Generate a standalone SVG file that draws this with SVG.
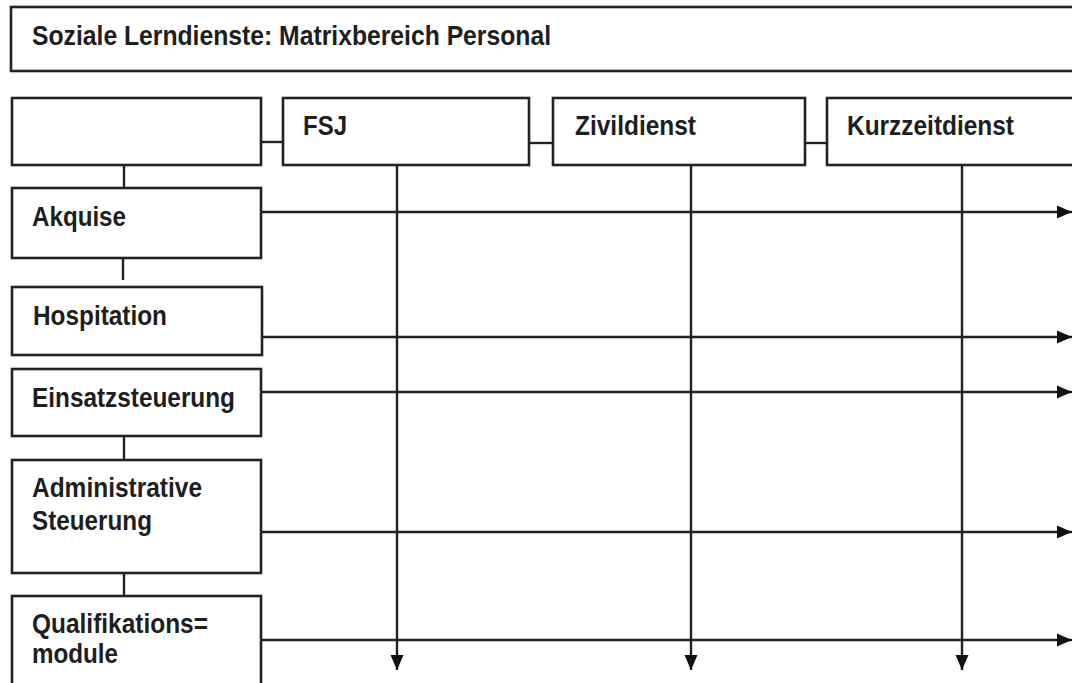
<svg xmlns="http://www.w3.org/2000/svg" width="1072" height="683" viewBox="0 0 1072 683">
<style>
.box{fill:#fff;stroke:#222;stroke-width:2.6}
.ln{fill:none;stroke:#222;stroke-width:2.4}
.t{font-family:"Liberation Sans",Arial,sans-serif;font-weight:bold;font-size:28px;fill:#1e1e1e}
</style>
<defs>
<marker id="ah" markerUnits="userSpaceOnUse" markerWidth="15" markerHeight="15" refX="15" refY="7.5" orient="auto" viewBox="0 0 15 15">
<path d="M0,1 L15,7.5 L0,14 Z" fill="#111"/>
</marker>
</defs>
<rect width="1072" height="683" fill="#fff"/>
<g id="connectors">
<line class="ln" x1="261" y1="142" x2="283" y2="142"/>
<line class="ln" x1="529" y1="143" x2="553" y2="143"/>
<line class="ln" x1="805" y1="143" x2="827" y2="143"/>
<line class="ln" x1="124" y1="165" x2="124" y2="188"/>
<line class="ln" x1="123" y1="258" x2="123" y2="280"/>
<line class="ln" x1="124" y1="436" x2="124" y2="460"/>
<line class="ln" x1="124" y1="573" x2="124" y2="596"/>
<line class="ln" x1="397" y1="165" x2="397" y2="670" marker-end="url(#ah)"/>
<line class="ln" x1="691" y1="165" x2="691" y2="670" marker-end="url(#ah)"/>
<line class="ln" x1="962" y1="165" x2="962" y2="670" marker-end="url(#ah)"/>
<line class="ln" x1="261" y1="212" x2="1072" y2="212" marker-end="url(#ah)"/>
<line class="ln" x1="261" y1="337" x2="1072" y2="337" marker-end="url(#ah)"/>
<line class="ln" x1="261" y1="392" x2="1072" y2="392" marker-end="url(#ah)"/>
<line class="ln" x1="261" y1="532" x2="1072" y2="532" marker-end="url(#ah)"/>
<line class="ln" x1="261" y1="640" x2="1072" y2="640" marker-end="url(#ah)"/>
</g>
<g id="title">
<rect class="box" x="11" y="7" width="1075" height="64"/>
<text class="t" x="32" y="45" textLength="519" lengthAdjust="spacingAndGlyphs">Soziale Lerndienste: Matrixbereich Personal</text>
</g>
<g id="corner">
<rect class="box" x="12" y="98" width="249" height="67"/>
</g>
<g id="fsj">
<rect class="box" x="283" y="98" width="246" height="67"/>
<text class="t" x="303" y="135" textLength="44" lengthAdjust="spacingAndGlyphs">FSJ</text>
</g>
<g id="zivildienst">
<rect class="box" x="553" y="98" width="252" height="67"/>
<text class="t" x="575" y="135" textLength="121" lengthAdjust="spacingAndGlyphs">Zivildienst</text>
</g>
<g id="kurzzeitdienst">
<rect class="box" x="827" y="98" width="260" height="67"/>
<text class="t" x="847" y="135" textLength="167" lengthAdjust="spacingAndGlyphs">Kurzzeitdienst</text>
</g>
<g id="akquise">
<rect class="box" x="12" y="188" width="249" height="70"/>
<text class="t" x="32" y="226" textLength="94" lengthAdjust="spacingAndGlyphs">Akquise</text>
</g>
<g id="hospitation">
<rect class="box" x="12" y="287" width="250" height="68"/>
<text class="t" x="33" y="325" textLength="134" lengthAdjust="spacingAndGlyphs">Hospitation</text>
</g>
<g id="einsatzsteuerung">
<rect class="box" x="12" y="369" width="249" height="67"/>
<text class="t" x="32" y="407" textLength="203" lengthAdjust="spacingAndGlyphs">Einsatzsteuerung</text>
</g>
<g id="administrative">
<rect class="box" x="12" y="460" width="249" height="113"/>
<text class="t" x="32" y="497" textLength="170" lengthAdjust="spacingAndGlyphs">Administrative</text>
<text class="t" x="32" y="530" textLength="120" lengthAdjust="spacingAndGlyphs">Steuerung</text>
</g>
<g id="qualifikation">
<rect class="box" x="12" y="596" width="249" height="100"/>
<text class="t" x="32" y="633" textLength="176" lengthAdjust="spacingAndGlyphs">Qualifikations=</text>
<text class="t" x="32" y="663" textLength="86" lengthAdjust="spacingAndGlyphs">module</text>
</g>
</svg>
